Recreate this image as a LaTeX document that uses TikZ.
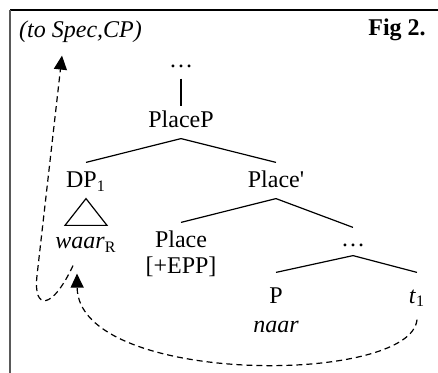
\documentclass[tikz,border=0pt]{standalone}
\usepackage{fontspec}
\setmainfont{Liberation Serif}
\usetikzlibrary{positioning,arrows.meta}
\tikzset{treenode/.style={
  inner xsep=2pt,
  inner ysep=5pt,
  text height=7.5pt,
  text depth=0pt,
  font=\fontsize{12}{14}\selectfont,
  }
}
\tikzset{movearrow/.style={
  dash pattern=on 3pt off 2pt,
  line width=0.6pt,
  -{Triangle[length=7pt,width=6.5pt]},
  }
}

\begin{document}
\begin{tikzpicture}[on grid, line width=0.6pt]
  \useasboundingbox (0,0) rectangle (219pt,-186.5pt);
  \coordinate (corner) at (5pt,-5pt);
  \coordinate (frameright) at (219pt,-5pt);
  \coordinate (framebottom) at (5pt,-186.5pt);
  \draw [line width=1pt] (corner) -- (frameright);
  \draw [line width=1pt, black!65] (corner) -- (framebottom);

  \node [treenode] (title) at (40.25pt,-15.25pt) {\textit{(to Spec,CP)}};
  \node [treenode] (fig) at (198.5pt,-14.25pt) {\textbf{Fig 2.}};

  \node [treenode] (placeP) at (90.5pt,-60.25pt) {PlaceP};
  \node [treenode, above=30pt of placeP] (topdots) {\dots};
  \node [treenode, below left=30pt and 47.5pt of placeP] (dp) {DP\textsubscript{1}};
  \node [treenode, below right=30pt and 47.5pt of placeP] (placeBar) {Place\textquotesingle};
  \node [treenode, below=30.5pt of dp] (waar) {\textit{waar}\textsubscript{R}};
  \node [treenode, below left=30pt and 47.5pt of placeBar] (place) {Place};
  \node [treenode, below=12.5pt of place] (epp) {[+EPP]};
  \node [treenode, below right=29.5pt and 38.5pt of placeBar] (dots2) {\dots};
  \node [treenode, below left=28pt and 38.5pt of dots2] (pp) {P};
  \node [treenode, below right=28pt and 32pt of dots2] (trace) {\textit{t}\textsubscript{1}};
  \node [treenode, below=14.5pt of pp] (naar) {\textit{naar}};

  \draw (topdots.south) -- ([yshift=-2pt]placeP.north);
  \draw (placeP.south) -- (dp.north);
  \draw (placeP.south) -- (placeBar.north);
  \draw (placeBar.south) -- (place.north);
  \draw (placeBar.south) -- ([yshift=-3pt]dots2.north);
  \draw ([yshift=1pt]dots2.south) -- ([yshift=2.5pt]pp.north);
  \draw ([yshift=1pt]dots2.south) -- ([yshift=2.5pt]trace.north);

  % triangle under DP
  \draw (dp.south) -- ([shift={(-10.5pt,-1pt)}]waar.north)
    -- ([shift={(10.5pt,-1pt)}]waar.north) -- cycle;

  % movement arrows
  \coordinate (bend) at ([shift={(-24.5pt,-8pt)}]waar.south);
  \draw [movearrow] ([yshift=-3pt]trace.south) .. controls +(-3pt,-33pt) and +(0.5pt,-56pt) .. ([shift={(-4.5pt,-7pt)}]waar.south);
  \draw [movearrow] ([shift={(-6.5pt,-3pt)}]waar.south) .. controls +(-10.5pt,-22.5pt) and +(-2pt,-17.5pt) .. (bend)
    -- ([shift={(-9.25pt,-3.5pt)}]title.south);
\end{tikzpicture}
\end{document}
